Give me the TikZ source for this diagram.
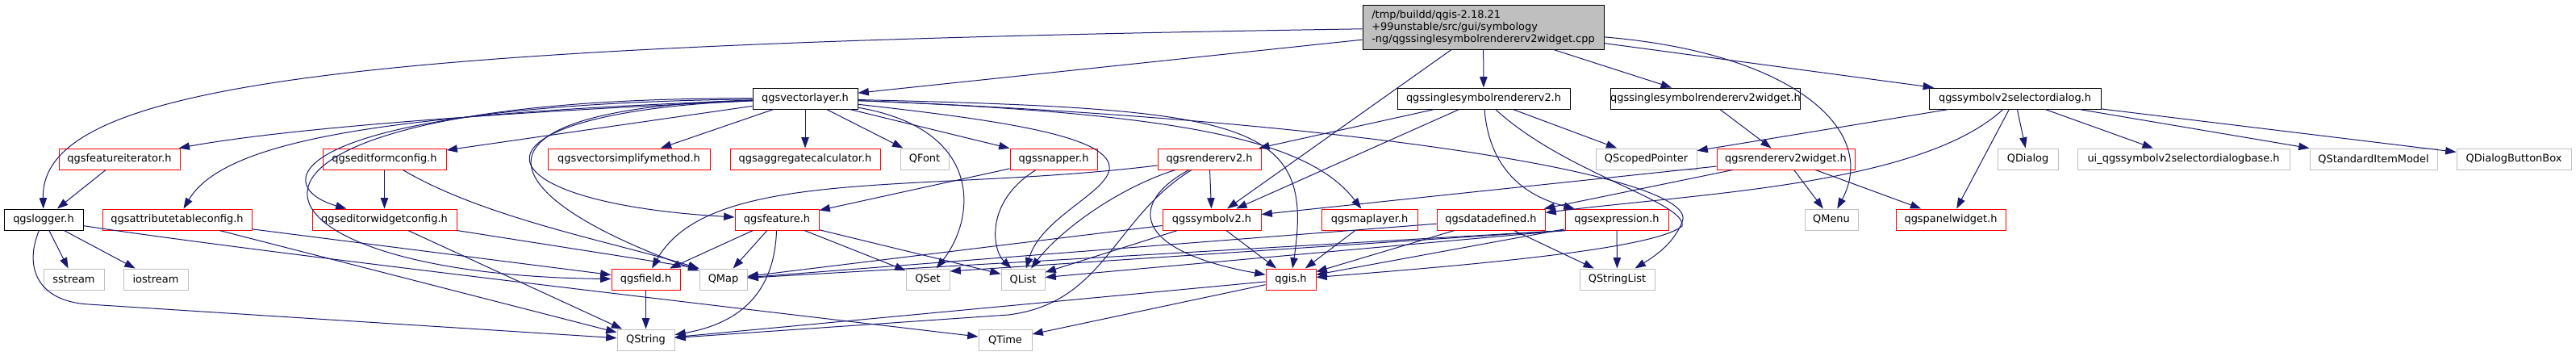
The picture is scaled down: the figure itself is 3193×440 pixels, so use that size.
\documentclass[tikz,border=0pt]{standalone}
\usepackage{fontspec}
\setmainfont{DejaVu Sans}
\usepackage{tikz}
\usetikzlibrary{arrows.meta}
\definecolor{edgeblue}{RGB}{25,25,112}
\definecolor{softgrey}{RGB}{191,191,191}
\definecolor{truncred}{RGB}{255,0,0}
\newcommand{\dotfont}{\fontsize{9.7pt}{11.25pt}\selectfont}

\begin{document}
\begin{tikzpicture}[x=0.75pt, y=-0.75pt, >={Triangle[length=10pt,width=7pt]}, every node/.style={font=\dotfont}]
\tikzstyle{hbox}=[draw=black, fill=white, line width=0.75pt, minimum height=19.5pt, inner sep=0pt]
\tikzstyle{rbox}=[draw=truncred, fill=white, line width=0.75pt, minimum height=19.5pt, inner sep=0pt]
\tikzstyle{gbox}=[draw=softgrey, fill=white, line width=0.75pt, minimum height=19.5pt, inner sep=0pt]
\tikzstyle{dep}=[->, draw=edgeblue, line width=0.75pt]
\fill[white] (0,0) rectangle (3193,440);
\useasboundingbox (0,0) rectangle (3193,440);
% top rows
\node[hbox, fill=softgrey, minimum width=224.25pt, minimum height=41.25pt, align=left] (main) at (1838.5,33.5) {/tmp/buildd/qgis-2.18.21\\+99unstable/src/gui/symbology\\-ng/qgssinglesymbolrendererv2widget.cpp};
\node[hbox, minimum width=97.5pt] (vlayer) at (998,122) {qgsvectorlayer.h};
\node[hbox, minimum width=160.5pt] (ssr) at (1839,122) {qgssinglesymbolrendererv2.h};
\node[hbox, minimum width=160.5pt] (ssrw) at (2114,122) {qgssinglesymbolrendererv2widget.h};
\node[hbox, minimum width=159.75pt] (seldlg) at (2497.5,122) {qgssymbolv2selectordialog.h};
% third row
\node[rbox, minimum width=112.5pt] (featit) at (148,197) {qgsfeatureiterator.h};
\node[rbox, minimum width=114.75pt] (efcfg) at (476.5,197) {qgseditformconfig.h};
\node[rbox, minimum width=150.75pt] (simpl) at (779.5,197) {qgsvectorsimplifymethod.h};
\node[rbox, minimum width=139.5pt] (aggr) at (998,197) {qgsaggregatecalculator.h};
\node[gbox, minimum width=45pt] (qfont) at (1146,197) {QFont};
\node[rbox, minimum width=81pt] (snapper) at (1306,197) {qgssnapper.h};
\node[rbox, minimum width=96pt] (rend) at (1499,197) {qgsrendererv2.h};
\node[gbox, minimum width=93.75pt] (scoped) at (2040.5,197) {QScopedPointer};
\node[rbox, minimum width=128.25pt] (rendw) at (2213.5,197) {qgsrendererv2widget.h};
\node[gbox, minimum width=56.25pt] (qdialog) at (2513.5,197) {QDialog};
\node[gbox, minimum width=197.25pt] (uidlg) at (2706.5,197) {ui\_qgssymbolv2selectordialogbase.h};
\node[gbox, minimum width=118.5pt] (qsim) at (2942,197) {QStandardItemModel};
\node[gbox, minimum width=106.5pt] (qdbb) at (3116,197) {QDialogButtonBox};
% fourth row
\node[hbox, minimum width=73.5pt] (logger) at (54,272) {qgslogger.h};
\node[rbox, minimum width=138.75pt] (attrcfg) at (219.5,272) {qgsattributetableconfig.h};
\node[rbox, minimum width=134.25pt] (ewcfg) at (476.5,272) {qgseditorwidgetconfig.h};
\node[rbox, minimum width=78pt] (feature) at (963,272) {qgsfeature.h};
\node[rbox, minimum width=91.5pt] (symbol) at (1502,272) {qgssymbolv2.h};
\node[rbox, minimum width=89.25pt] (maplayer) at (1697.5,272) {qgsmaplayer.h};
\node[rbox, minimum width=100.5pt] (datadef) at (1848,272) {qgsdatadefined.h};
\node[rbox, minimum width=96pt] (expr) at (2004,272) {qgsexpression.h};
\node[gbox, minimum width=49.5pt] (qmenu) at (2270,272) {QMenu};
\node[rbox, minimum width=102pt] (panel) at (2418,272) {qgspanelwidget.h};
% fifth row
\node[gbox, minimum width=56.25pt] (sstream) at (91.5,346) {sstream};
\node[gbox, minimum width=60pt] (iostream) at (193,346) {iostream};
\node[rbox, minimum width=63.75pt] (field) at (800.5,346) {qgsfield.h};
\node[gbox, minimum width=44.25pt] (qmap) at (896.5,346) {QMap};
\node[gbox, minimum width=40.5pt] (qset) at (1150,346) {QSet};
\node[gbox, minimum width=40.5pt] (qlist) at (1268,346) {QList};
\node[rbox, minimum width=46.5pt] (qgis) at (1600,346) {qgis.h};
\node[gbox, minimum width=69.75pt] (qsl) at (2004.5,346) {QStringList};
% last row
\node[gbox, minimum width=53.25pt] (qstring) at (800.5,421) {QString};
\node[gbox, minimum width=49.5pt] (qtime) at (1246,421) {QTime};
% includes of the cpp file
\draw[dep] (main) .. controls (450,55) and (50,100) .. (logger);
\draw[dep] (main) -- (vlayer);
\draw[dep] (main) -- (symbol);
\draw[dep] (main) -- (ssr);
\draw[dep] (main) -- (ssrw);
\draw[dep] (main) -- (seldlg);
\draw[dep] (main) .. controls (2220,65) and (2330,160) .. (qmenu);
% qgsvectorlayer.h
\draw[dep] (vlayer) .. controls (600,140) and (350,160) .. (featit);
\draw[dep] (vlayer) .. controls (500,140) and (280,170) .. (attrcfg);
\draw[dep] (vlayer) -- (efcfg);
\draw[dep] (vlayer) .. controls (350,130) and (330,230) .. (ewcfg);
\draw[dep] (vlayer) .. controls (200,120) and (260,340) .. (field);
\draw[dep] (vlayer) -- (simpl);
\draw[dep] (vlayer) -- (aggr);
\draw[dep] (vlayer) -- (qfont);
\draw[dep] (vlayer) -- (snapper);
\draw[dep] (vlayer) .. controls (560,140) and (580,250) .. (feature);
\draw[dep] (vlayer) .. controls (560,135) and (600,240) .. (qmap);
\draw[dep] (vlayer) .. controls (1220,160) and (1210,270) .. (qset);
\draw[dep] (vlayer) .. controls (1250,150) and (1380,170) .. (1375,210) .. controls (1370,240) and (1290,270) .. (qlist);
\draw[dep] (vlayer) .. controls (1550,135) and (1630,150) .. (qgis);
\draw[dep] (vlayer) .. controls (1450,140) and (1620,170) .. (maplayer);
\draw[dep] (vlayer) .. controls (1700,150) and (2110,220) .. (2085,275) .. controls (2075,300) and (2055,315) .. (qsl);
% qgssinglesymbolrendererv2.h
\draw[dep] (ssr) -- (rend);
\draw[dep] (ssr) -- (symbol);
\draw[dep] (ssr) .. controls (1845,200) and (1880,240) .. (expr);
\draw[dep] (ssr) -- (scoped);
\draw[dep] (ssr) .. controls (1940,215) and (2090,250) .. (2085,280) .. controls (2050,310) and (1800,330) .. (qgis);
\draw[dep] (ssrw) -- (rendw);
% qgssymbolv2selectordialog.h
\draw[dep] (seldlg) -- (scoped);
\draw[dep] (seldlg) .. controls (2380,230) and (2100,240) .. (datadef);
\draw[dep] (seldlg) -- (panel);
\draw[dep] (seldlg) -- (qdialog);
\draw[dep] (seldlg) -- (uidlg);
\draw[dep] (seldlg) -- (qsim);
\draw[dep] (seldlg) -- (qdbb);
\draw[dep] (rendw) -- (symbol);
\draw[dep] (rendw) -- (datadef);
\draw[dep] (rendw) -- (qmenu);
\draw[dep] (rendw) -- (panel);
% left part
\draw[dep] (featit) -- (logger);
\draw[dep] (efcfg) -- (ewcfg);
\draw[dep] (efcfg) .. controls (600,270) and (760,300) .. (qmap.north west);
\draw[dep] (ewcfg) -- (qstring);
\draw[dep] (ewcfg.south east) -- (qmap.north west);
\draw[dep] (attrcfg) -- (field);
\draw[dep] (attrcfg) -- (qstring);
\draw[dep] (logger) -- (sstream);
\draw[dep] (logger) -- (iostream);
\draw[dep] (logger) .. controls (300,310) and (900,380) .. (qtime);
\draw[dep] (logger) .. controls (30,330) and (45,373) .. (110,377) -- (qstring);
% middle part
\draw[dep] (feature) -- (field);
\draw[dep] (feature) -- (qmap);
\draw[dep] (feature) .. controls (960,360) and (920,400) .. (qstring);
\draw[dep] (feature) -- (qset);
\draw[dep] (feature) -- (qlist);
\draw[dep] (field) -- (qstring);
\draw[dep] (snapper) -- (feature);
\draw[dep] (snapper) .. controls (1220,250) and (1230,310) .. (qlist);
\draw[dep] (rend) .. controls (1150,240) and (880,205) .. (field);
\draw[dep] (rend) .. controls (1380,235) and (1310,290) .. (qlist);
\draw[dep] (rend) -- (symbol);
\draw[dep] (rend) .. controls (1380,270) and (1370,375) .. (1250,390) -- (qstring);
\draw[dep] (rend) .. controls (1400,250) and (1400,310) .. (qgis);
\draw[dep] (symbol) -- (qgis);
\draw[dep] (symbol) -- (qlist);
\draw[dep] (symbol) -- (qmap);
\draw[dep] (maplayer) -- (qgis);
\draw[dep] (qgis) -- (qstring);
\draw[dep] (qgis) -- (qtime);
% right part
\draw[dep] (datadef) -- (qgis);
\draw[dep] (datadef) -- (qsl);
\draw[dep] (datadef) -- (qmap);
\draw[dep] (expr) -- (qgis);
\draw[dep] (expr) -- (qsl);
\draw[dep] (expr.south west) -- (qmap);
\draw[dep] (expr.south west) -- (qset.20);
\draw[dep] (expr.south west) -- (qlist);
\end{tikzpicture}
\end{document}
